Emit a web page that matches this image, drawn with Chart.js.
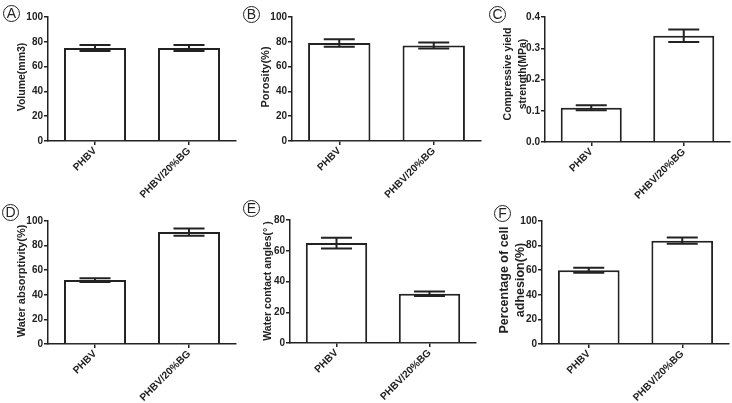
<!DOCTYPE html>
<html><head><meta charset="utf-8">
<script src="https://cdn.jsdelivr.net/npm/chart.js@4.4.0/dist/chart.umd.min.js"></script>
<style>
html,body{margin:0;padding:0;background:#fff;}
#wrap{position:relative;width:732px;height:403px;background:#fff;overflow:hidden;}
.pan{position:absolute;}
.lab{position:absolute;width:15px;height:15px;border:1px solid #222;border-radius:50%;font:14px "Liberation Sans",Arial,sans-serif;color:#222;text-align:center;line-height:15px;box-sizing:content-box;}
.ytitle{position:absolute;white-space:nowrap;text-align:center;font-family:"Liberation Sans",Arial,sans-serif;font-weight:bold;color:#222;line-height:1;transform:translate(-50%,-50%) rotate(-90deg);}
</style></head><body>
<div id="wrap"></div>
<script>
const categories = ["PHBV", "PHBV/20%BG"];

const volumeMean = [75, 75];
const volumeErr = [2.5, 2.5];
const porosityMean = [79, 77];
const porosityErr = [3, 2.5];
const strengthMean = [0.11, 0.34];
const strengthErr = [0.008, 0.02];
const absorbMean = [52, 91];
const absorbErr = [1.5, 3];
const angleMean = [65, 32];
const angleErr = [3.5, 1.5];
const adhesionMean = [60, 84];
const adhesionErr = [2, 2.5];

const panels = [
  {id:"A", title:["Volume(mm3)"], mean:volumeMean, err:volumeErr, max:100, step:20, dec:0,
   left:0, top:0, w:244, h:200, axisX:48, axisEnd:236, topY:17, zeroY:141, tSize:10.5, tPos:[21], tY:77,
   lx:11, ly:13},
  {id:"B", title:["Porosity(%)"], mean:porosityMean, err:porosityErr, max:100, step:20, dec:0,
   left:244, top:0, w:244, h:200, axisX:48, axisEnd:237, topY:17, zeroY:141, tSize:11, tPos:[21], tY:77,
   lx:251, ly:14},
  {id:"C", title:["Compressive yield","strength(MPa)"], mean:strengthMean, err:strengthErr, max:0.4, step:0.1, dec:1,
   left:488, top:0, w:244, h:200, axisX:57, axisEnd:242, topY:17, zeroY:142, tSize:10.5, tPos:[18.5, 33.5], tY:74,
   lx:497, ly:14},
  {id:"D", title:["Water absorptivity(%)"], mean:absorbMean, err:absorbErr, max:100, step:20, dec:0,
   left:0, top:200, w:244, h:203, axisX:48, axisEnd:236, topY:21, zeroY:144, tSize:11, tPos:[21], tY:81,
   lx:10, ly:212},
  {id:"E", title:["Water contact angles(° )"], mean:angleMean, err:angleErr, max:80, step:20, dec:0,
   left:244, top:200, w:244, h:203, axisX:46, axisEnd:232, topY:20, zeroY:143, tSize:10.5, tPos:[23], tY:81,
   lx:251, ly:208},
  {id:"F", title:["Percentage of cell","adhesion(%)"], mean:adhesionMean, err:adhesionErr, max:100, step:20, dec:0,
   left:488, top:200, w:244, h:203, axisX:54, axisEnd:241, topY:21, zeroY:144, tSize:12.5, tPos:[16, 32], tY:80,
   lx:502, ly:213}
];

const INK = "#222";
const FONT = "'Liberation Sans', Arial, sans-serif";

const errorBars = {
  id: "errorBars",
  afterDatasetsDraw(chart, args, opts) {
    const ctx = chart.ctx;
    const meta = chart.getDatasetMeta(0);
    const ys = chart.scales.y;
    const ds = chart.data.datasets[0];
    ctx.save();
    ctx.strokeStyle = INK;
    ctx.lineWidth = 2;
    meta.data.forEach((bar, i) => {
      const m = ds.data[i], e = opts.err[i];
      const yTop = ys.getPixelForValue(m + e);
      const yBot = ys.getPixelForValue(m - e);
      const x = bar.x, hw = 15.5;
      ctx.beginPath();
      ctx.moveTo(x, yTop); ctx.lineTo(x, yBot);
      ctx.moveTo(x - hw, yTop); ctx.lineTo(x + hw, yTop);
      ctx.moveTo(x - hw, yBot); ctx.lineTo(x + hw, yBot);
      ctx.stroke();
    });
    ctx.restore();
  }
};

const wrap = document.getElementById("wrap");
panels.forEach(p => {
  const div = document.createElement("div");
  div.className = "pan";
  div.style.left = p.left + "px"; div.style.top = p.top + "px";
  div.style.width = p.w + "px"; div.style.height = p.h + "px";
  const cv = document.createElement("canvas");
  cv.width = p.w; cv.height = p.h;
  cv.style.width = p.w + "px"; cv.style.height = p.h + "px";
  div.appendChild(cv);
  wrap.appendChild(div);

  const lab = document.createElement("div");
  lab.className = "lab";
  lab.textContent = p.id;
  lab.style.left = (p.lx - 8) + "px"; lab.style.top = (p.ly - 8) + "px";
  wrap.appendChild(lab);

  p.title.forEach((t, k) => {
    const yt = document.createElement("div");
    yt.className = "ytitle";
    yt.textContent = t;
    yt.style.fontSize = p.tSize + "px";
    yt.style.left = (p.left + p.tPos[k]) + "px";
    yt.style.top = (p.top + p.tY) + "px";
    wrap.appendChild(yt);
  });

  new Chart(cv, {
    type: "bar",
    data: { labels: categories, datasets: [{ data: p.mean, backgroundColor: "#fff", borderColor: INK, borderWidth: 2,
      barPercentage: 0.66, categoryPercentage: 1 }] },
    options: {
      responsive: false, animation: false, devicePixelRatio: 1,
      layout: { padding: { left: 0, top: p.topY, right: p.w - p.axisEnd, bottom: 0 } },
      plugins: { legend: { display: false }, tooltip: { enabled: false }, errorBars: { err: p.err } },
      scales: {
        x: {
          offset: true,
          grid: { display: true, offset: false, drawOnChartArea: false, drawTicks: true, tickLength: 4, color: INK, lineWidth: 1.5 },
          border: { display: true, color: INK, width: 1.5 },
          ticks: { color: INK, font: { family: FONT, size: 10.2, weight: "bold" }, minRotation: 45, maxRotation: 45, padding: 0, autoSkip: false },
          afterFit: s => { s.height = p.h - p.zeroY; }
        },
        y: {
          min: 0, max: p.max,
          grid: { display: true, drawOnChartArea: false, drawTicks: true, tickLength: 4, color: INK, lineWidth: 1.5 },
          border: { display: true, color: INK, width: 1.5 },
          ticks: { stepSize: p.step, color: INK, padding: 1, font: { family: FONT, size: 10, weight: "bold" },
            callback: v => Number(v).toFixed(p.dec) },
          title: { display: false },
          afterFit: s => { s.width = p.axisX; }
        }
      }
    },
    plugins: [errorBars]
  });
});
</script>
</body></html>
